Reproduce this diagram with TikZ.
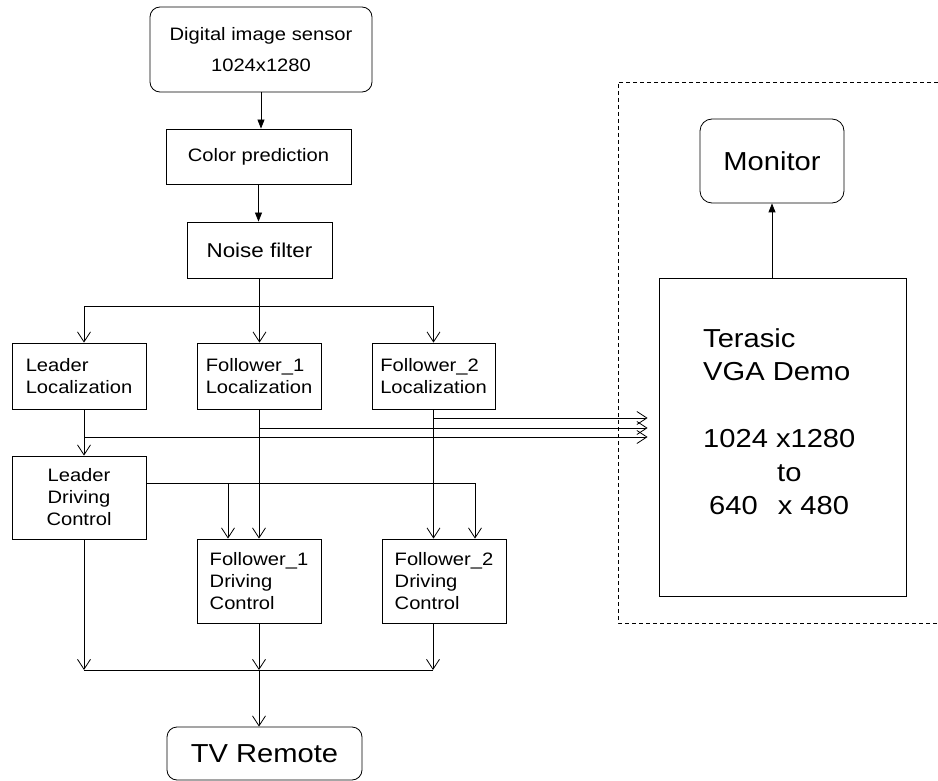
\documentclass[tikz,border=0pt]{standalone}
\usepackage{fontspec}
\setmainfont{Liberation Sans}[FakeStretch=1.12]
\usepackage{tikz}
\usetikzlibrary{arrows.meta,shapes,positioning,calc}

\begin{document}
\begin{tikzpicture}[x=1pt, y=-1pt,
    box/.style={draw, line width=0.8pt, inner sep=2pt, align=center, font=\fontsize{18}{22}\selectfont},
    rbox/.style={box, rounded corners=10pt},
    link/.style={line width=0.8pt, -{Straight Barb[length=10pt,width=13pt]}},
    feed/.style={line width=0.8pt, -{Triangle[length=9pt,width=7pt]}},
    wire/.style={line width=0.8pt}]
    \useasboundingbox (0,0) rectangle (938,781);

    % processing chain
    \node[rbox, minimum width=222pt, minimum height=85pt, font=\fontsize{18}{31}\selectfont] (sensor) at (261,49.5) {Digital image sensor\\1024x1280};
    \node[box, minimum width=185pt, minimum height=55pt] (color) at (258.5,156.5) {Color prediction};
    \node[box, minimum width=145pt, minimum height=56pt, font=\fontsize{20}{24}\selectfont] (noise) at (259.5,250) {Noise filter};

    \node[box, align=left, minimum width=134pt, minimum height=66pt] (lloc) at (79,376) {Leader\\Localization};
    \node[box, align=left, minimum width=124pt, minimum height=66pt] (f1loc) at (259,376) {Follower\_1\\Localization};
    \node[box, align=left, minimum width=123pt, minimum height=66pt] (f2loc) at (433.5,376) {Follower\_2\\Localization};

    \node[box, minimum width=134pt, minimum height=83pt] (ldrv) at (79,497.5) {Leader\\Driving\\Control};
    \node[box, align=left, minimum width=124pt, minimum height=84pt] (f1drv) at (259,581) {Follower\_1\\Driving\\Control};
    \node[box, align=left, minimum width=124pt, minimum height=84pt] (f2drv) at (444,581) {Follower\_2\\Driving\\Control};

    \node[rbox, minimum width=195pt, minimum height=53pt, font=\fontsize{26}{30}\selectfont] (tv) at (264.5,753.5) {TV Remote};

    % display part
    \draw[wire, dash pattern=on 4pt off 3pt] (945,82) -- (618,82) -- (618,623) -- (945,623);
    \node[rbox, rounded corners=12pt, minimum width=144pt, minimum height=84pt, font=\fontsize{26}{30}\selectfont] (monitor) at (772,161) {Monitor};
    \node[box, minimum width=247pt, minimum height=318pt] (vga) at (782.5,437) {};
    \node[anchor=north west, inner sep=0pt, align=left, font=\fontsize{26}{33.5}\selectfont] (vgatext) at (703,328)
        {Terasic\\VGA Demo\\[33.5pt]1024 x1280\\\hspace*{74pt}to\\\hspace*{6pt}640\hspace{20pt}x 480};

    \coordinate (split) at (259.5,306);
    \coordinate (merge) at (259,670);

    % connectors
    \draw[feed] (sensor.south) -- (sensor.south |- color.north);
    \draw[feed] (color.south) -- (color.south |- noise.north);
    \draw[wire] (noise.south) -- (split);
    \draw[link] (split) -| ([xshift=5pt]lloc.north);
    \draw[link] (split) -- (split |- f1loc.north);
    \draw[link] (split) -| (f2loc.north);

    \draw[link, shorten >=11pt] ([xshift=5pt]lloc.south) |- (vga.west);
    \draw[link, shorten >=11pt] (f1loc.south) |- ([yshift=9pt]vga.west);
    \draw[link, shorten >=11pt] (f2loc.south) |- ([yshift=19pt]vga.west);

    \draw[link] ([xshift=5pt]lloc.south) -- ([xshift=5pt]ldrv.north);
    \draw[link] (f1loc.south) -- (f1drv.north);
    \draw[link] (f2loc.south) -- (f2loc.south |- f2drv.north);
    \draw[link] ([yshift=14.5pt]ldrv.east) -| ([xshift=-31pt]f1drv.north);
    \draw[link] ([yshift=14.5pt]ldrv.east) -| ([xshift=31pt]f2drv.north);

    \draw[link] ([xshift=5pt]ldrv.south) -- ([xshift=5pt]ldrv.south |- merge);
    \draw[link] (f1drv.south) -- (merge);
    \draw[link] ([xshift=-11pt]f2drv.south) -- ([xshift=-11pt]f2drv.south |- merge);
    \draw[wire] ([xshift=5pt]ldrv.south |- merge) -- ([xshift=-11pt]f2drv.south |- merge);
    \draw[link] (merge) -- (merge |- tv.north);

    \draw[feed] (monitor.south |- vga.north) -- (monitor.south);
\end{tikzpicture}
\end{document}
